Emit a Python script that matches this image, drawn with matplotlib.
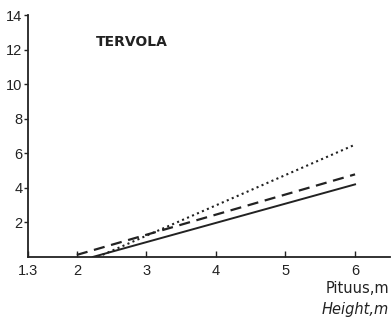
import matplotlib
matplotlib.use("Agg")
import matplotlib.pyplot as plt

plt.rcParams['font.family'] = ['Liberation Sans', 'DejaVu Sans']

# Data (height m -> value)
solid_x = [2.23, 6.0]
solid_y = [0.0, 4.2]
dashed_x = [2.0, 6.0]
dashed_y = [0.12, 4.78]
dotted_x = [2.3, 6.0]
dotted_y = [0.0, 6.5]
xticks = [1.3, 2, 3, 4, 5, 6]
xtick_labels = ["1.3", "2", "3", "4", "5", "6"]
yticks = [2, 4, 6, 8, 10, 12, 14]

fig = plt.figure(figsize=(3.91, 3.20), dpi=100)
ax = fig.add_axes([0.072, 0.197, 0.925, 0.756])
col = '#222222'
ax.plot(solid_x, solid_y, color=col, lw=1.4, ls='-')
ax.plot(dashed_x, dashed_y, color=col, lw=1.6, ls=(0, (5, 3)))
ax.plot(dotted_x, dotted_y, color=col, lw=1.5, ls=(0, (1, 1.6)))

ax.set_xlim(1.3, 6.5)
ax.set_ylim(0, 14)
ax.set_xticks(xticks)
ax.set_xticklabels(xtick_labels)
ax.set_yticks(yticks)
for s in ['top', 'right']:
    ax.spines[s].set_visible(False)
for s in ['left', 'bottom']:
    ax.spines[s].set_linewidth(1.3)
    ax.spines[s].set_color(col)
ax.tick_params(axis='x', direction='in', length=4, width=1, labelsize=10.5, colors=col, pad=5)
ax.tick_params(axis='y', direction='out', length=3, width=1, labelsize=10.5, colors=col, pad=1)

ax.text(2.27, 12.45, "TERVOLA", fontsize=10, fontweight='bold', color=col,
        ha='left', va='center', family='DejaVu Sans')
fig.text(0.995, 0.097, "Pituus,m", fontsize=10.5, ha='right', va='center', color=col,
         family='DejaVu Sans')
fig.text(0.995, 0.032, "Height,m", fontsize=10.5, ha='right', va='center', color=col,
         style='italic', family='DejaVu Sans')

fig.savefig("out.png", dpi=100)
